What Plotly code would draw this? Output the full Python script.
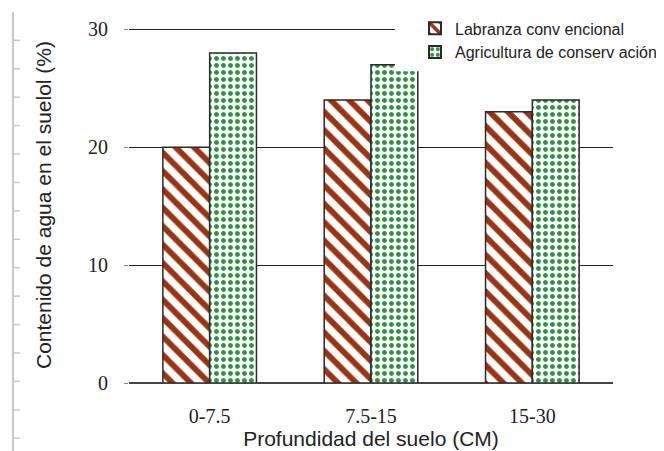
import plotly.graph_objects as go

categories = ["0-7.5", "7.5-15", "15-30"]
labranza = [20, 24, 23]
agricultura = [28, 27, 24]
series_names = ["Labranza conv encional", "Agricultura de conserv ación"]
y_ticks = [0, 10, 20, 30]

NARROW = "Liberation Sans Narrow, Arial Narrow, Liberation Sans, Arial, sans-serif"
SERIF = "Liberation Serif, Times New Roman, serif"

fig = go.Figure()
fig.add_trace(go.Bar(
    x=categories, y=labranza, name=series_names[0],
    marker=dict(color="white", line=dict(color="#2a2a2a", width=1.5),
                pattern=dict(shape="\\", fgcolor="#9A3412", bgcolor="white", size=13,
                             solidity=0.45, fgopacity=1)),
))
fig.add_trace(go.Bar(
    x=categories, y=agricultura, name=series_names[1],
    marker=dict(color="white", line=dict(color="#2a2a2a", width=1.5),
                pattern=dict(shape=".", fgcolor="#2E9442", bgcolor="white", size=7,
                             solidity=0.4, fgopacity=1)),
))

# page has an 8px body margin: work in page pixels and convert
OFF = 8
W, H = 664, 451
Y_TOP = 30.2
PL, PR, PB = 129, 613, 383            # plot area in page pixels
PT = PB - (PB - 29) * Y_TOP / 30       # so that 30 sits at page y=29
L, T = PL - OFF, PT - OFF
R, B = W - (PR - OFF), H - (PB - OFF)
pw, ph = PR - PL, PB - PT
def px(x):
    return (x - PL) / pw
def py(y):
    return (PB - y) / ph

shapes = []
# white legend box that hides the top gridline / bar corner like in the reference
shapes.append(dict(type="rect", xref="paper", yref="paper", x0=px(395), x1=px(670), y0=py(71), y1=py(0),
                   fillcolor="white", line=dict(width=0), layer="above"))
# left ruler-like decoration (scan artifact in reference)
shapes.append(dict(type="line", xref="paper", yref="paper", x0=px(13), x1=px(13), y0=py(12), y1=py(460),
                   line=dict(color="#c8c8c8", width=2), layer="above"))
for k in range(15):
    yy = 40 + k * 28.45
    shapes.append(dict(type="line", xref="paper", yref="paper", x0=px(13), x1=px(20), y0=py(yy), y1=py(yy),
                       line=dict(color="#c8c8c8", width=1.5)))

fig.update_layout(
    width=W, height=H,
    margin=dict(l=L, r=R, t=T, b=B, autoexpand=False),
    paper_bgcolor="white", plot_bgcolor="white",
    barmode="group", bargap=0.42, bargroupgap=0,
    showlegend=True,
    legend=dict(x=px(415), y=py(11), xanchor="left", yanchor="top",
                font=dict(family=NARROW, size=16, color="#222"),
                bgcolor="rgba(0,0,0,0)", tracegroupgap=0, itemsizing="constant"),
    shapes=shapes,
    xaxis=dict(
        title=dict(text="Profundidad del suelo (CM)", font=dict(family=NARROW, size=21, color="#222"), standoff=0),
        tickfont=dict(family=SERIF, size=20, color="#222"),
        showline=False, showgrid=False, ticks="outside", ticklen=15, tickcolor="rgba(0,0,0,0)",
        zeroline=False, automargin=False,
    ),
    yaxis=dict(
        title=dict(text="Contenido de agua en el suelol (%)", font=dict(family=NARROW, size=21, color="#222"), standoff=30),
        tickfont=dict(family=SERIF, size=20, color="#222"),
        range=[0, Y_TOP], tickvals=y_ticks, ticks="outside", ticklen=4, tickcolor="#888",
        ticklabelstandoff=12, automargin=False,
        showgrid=True, gridcolor="#222", gridwidth=1.3,
        zeroline=True, zerolinecolor="#444", zerolinewidth=1.5, showline=False,
    ),
)
fig.write_html("out.html")
